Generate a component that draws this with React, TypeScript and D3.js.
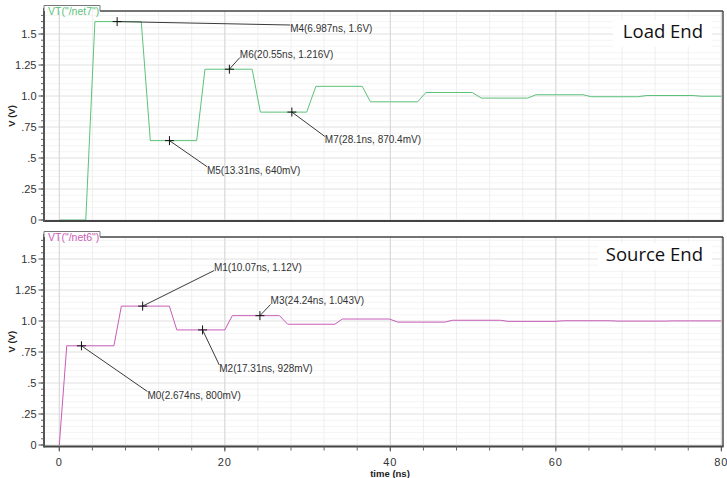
import React from "react";
import * as d3 from "d3";

// ---------- DATA ----------
const loadTime = [0, 3.2, 4.3, 9.9, 11.0, 16.6, 17.6, 23.3, 24.3, 29.9, 31.0, 36.6, 37.6, 43.3, 44.3, 49.9, 51.0, 56.6, 57.6, 63.3, 64.3, 69.9, 71.0, 76.6, 77.6, 80];
const loadVolt = [0, 0, 1.6, 1.6, 0.64, 0.64, 1.216, 1.216, 0.870, 0.870, 1.078, 1.078, 0.953, 0.953, 1.028, 1.028, 0.983, 0.983, 1.010, 1.010, 0.994, 0.994, 1.004, 1.004, 0.998, 0.998];

const sourceTime = [0, 0.9, 6.6, 7.5, 13.3, 14.2, 20.0, 20.9, 26.6, 27.6, 33.3, 34.2, 39.9, 40.9, 46.6, 47.5, 53.3, 54.2, 59.9, 60.9, 66.6, 67.5, 73.3, 74.2, 79.9, 80];
const sourceVolt = [0, 0.8, 0.8, 1.12, 1.12, 0.928, 0.928, 1.043, 1.043, 0.974, 0.974, 1.016, 1.016, 0.991, 0.991, 1.006, 1.006, 0.997, 0.997, 1.002, 1.002, 0.999, 0.999, 1.001, 1.001, 1.0];

const loadMarkerNames = ["M4", "M6", "M5", "M7"];
const loadMarkerTime = [6.987, 20.55, 13.31, 28.1];
const loadMarkerVolt = [1.6, 1.216, 0.64, 0.8704];
const loadMarkerText = ["M4(6.987ns, 1.6V)", "M6(20.55ns, 1.216V)", "M5(13.31ns, 640mV)", "M7(28.1ns, 870.4mV)"];

const sourceMarkerNames = ["M0", "M1", "M2", "M3"];
const sourceMarkerTime = [2.674, 10.07, 17.31, 24.24];
const sourceMarkerVolt = [0.8, 1.12, 0.928, 1.043];
const sourceMarkerText = ["M0(2.674ns, 800mV)", "M1(10.07ns, 1.12V)", "M2(17.31ns, 928mV)", "M3(24.24ns, 1.043V)"];

const xTickValues = [0, 20, 40, 60, 80];
const yTickValues = [0, 0.25, 0.5, 0.75, 1.0, 1.25, 1.5];
const yTickLabels = ["0", ".25", ".5", ".75", "1.0", "1.25", "1.5"];

// ---------- LAYOUT (styles / positions) ----------
const W = 727, H = 478;
const LEFT = 44, RIGHT = 723;
const loadLabelOffsets = [
  { dx: 173, dy: 10.4, top: true },
  { dx: 10.5, dy: -11.7, top: false },
  { dx: 37.5, dy: 33, top: true },
  { dx: 33, dy: 31.4, top: true },
];
const sourceLabelOffsets = [
  { dx: 66, dy: 52.7, top: true },
  { dx: 71.3, dy: -35.5, top: false },
  { dx: 16.7, dy: 42, top: true },
  { dx: 10.7, dy: -11.2, top: false },
];

const x = d3.scaleLinear().domain([-1.85, 80.2]).range([LEFT, RIGHT]);

function Panel(props: any) {
  const { top, zeroY, axisY, color, tabText, title, titleBox, times, volts, mTimes, mVolts, mTexts, offsets } = props;
  const y = d3.scaleLinear().domain([0, 1]).range([zeroY, zeroY - 124]);
  const line = d3.line<number>().x((_, i) => x(times[i])).y((v) => y(v));
  const minorX = d3.range(-0, 81, 4);
  const yMax = y.invert(top);
  const minorY = d3.range(0, yMax, 0.05);
  const font = "Liberation Sans, Arial, sans-serif";
  return (
    <g>
      {/* grid */}
      {minorY.map((v, i) => (
        <line key={"my" + i} x1={LEFT} x2={RIGHT} y1={y(v)} y2={y(v)} stroke="#f4f4f4" strokeWidth={1} />
      ))}
      {minorX.map((t, i) => (
        <line key={"mx" + i} x1={x(t)} x2={x(t)} y1={top} y2={axisY} stroke="#efefef" strokeWidth={1} />
      ))}
      {yTickValues.map((v, i) => (
        <line key={"gy" + i} x1={LEFT} x2={RIGHT} y1={y(v)} y2={y(v)} stroke="#e6e6e6" strokeWidth={1} />
      ))}
      {xTickValues.map((t, i) => (
        <line key={"gx" + i} x1={x(t)} x2={x(t)} y1={top} y2={axisY} stroke="#d6d6d6" strokeWidth={1} />
      ))}
      {/* title box */}
      <rect x={titleBox[0]} y={titleBox[1]} width={titleBox[2]} height={titleBox[3]} fill="#fff" />
      <text x={703} y={titleBox[1] + 18} textAnchor="end" fontFamily="Open Sans, sans-serif" fontSize={18.5} fill="#111">{title}</text>
      {/* trace */}
      <path d={line(volts) || ""} fill="none" stroke={color} strokeWidth={1} />
      {/* markers */}
      {mTimes.map((t: number, i: number) => {
        const mx = x(t), my = y(mVolts[i]);
        const o = offsets[i];
        const lx = mx + o.dx, ly = my + o.dy;
        const ey = o.top ? ly - 7 : ly;
        return (
          <g key={"m" + i}>
            <line x1={mx} y1={my} x2={lx} y2={ey} stroke="#3a3a3a" strokeWidth={1} />
            <line x1={mx - 4.5} x2={mx + 4.5} y1={my} y2={my} stroke="#111" strokeWidth={1} />
            <line x1={mx} x2={mx} y1={my - 4.5} y2={my + 4.5} stroke="#111" strokeWidth={1} />
            <text x={lx} y={ly} fontFamily={font} fontSize={10} fill="#333">{mTexts[i]}</text>
          </g>
        );
      })}
      {/* y ticks */}
      {minorY.map((v, i) => (
        <line key={"ty" + i} x1={41} x2={LEFT} y1={y(v)} y2={y(v)} stroke="#666" strokeWidth={1} />
      ))}
      {yTickValues.map((v, i) => (
        <g key={"yl" + i}>
          <line x1={38.5} x2={LEFT} y1={y(v)} y2={y(v)} stroke="#555" strokeWidth={1} />
          <text x={36.5} y={y(v) + 4} textAnchor="end" fontFamily={font} fontSize={11} fill="#333">{yTickLabels[i]}</text>
        </g>
      ))}
      {/* frame */}
      <line x1={100} x2={RIGHT} y1={top} y2={top} stroke="#444" strokeWidth={1.6} />
      <line x1={RIGHT} x2={RIGHT} y1={top} y2={axisY} stroke="#333" strokeWidth={1.3} />
      <line x1={LEFT} x2={RIGHT + 0.6} y1={axisY} y2={axisY} stroke="#444" strokeWidth={2} />
      <line x1={LEFT} x2={LEFT} y1={top - 3} y2={axisY + 1} stroke="#555" strokeWidth={2} />
      {/* tab */}
      <path d={`M${LEFT},${top} L${LEFT},${top - 5.5} L100,${top - 5.5} L100,${top}`} fill="#fff" stroke="#777" strokeWidth={1} />
      <text x={48} y={top + 4} fontFamily={font} fontSize={10.5} fill={color}>{tabText}</text>
      {/* y label */}
      <text transform={`translate(15,${(top + axisY) / 2}) rotate(-90)`} textAnchor="middle" fontFamily={font} fontSize={9.5} fontWeight="bold" fill="#222">V (V)</text>
    </g>
  );
}

export default function App() {
  const font = "Liberation Sans, Arial, sans-serif";
  const axisY = 446.5;
  const minorX = d3.range(0, 81, 4);
  return (
    <svg width={W} height={H} style={{ position: "absolute", left: 0, top: 0, background: "#fff" }}>
      <rect x={0} y={0} width={W} height={H} fill="#fff" />
      <Panel top={11} zeroY={220} axisY={221} color="#5cc27a" tabText={'VT("/net7")'} title="Load End" titleBox={[613, 20, 99, 27]}
        times={loadTime} volts={loadVolt} mTimes={loadMarkerTime} mVolts={loadMarkerVolt} mTexts={loadMarkerText} offsets={loadLabelOffsets} />
      <Panel top={237} zeroY={445} axisY={axisY} color="#c95cb8" tabText={'VT("/net6")'} title="Source End" titleBox={[598, 243, 114, 27]}
        times={sourceTime} volts={sourceVolt} mTimes={sourceMarkerTime} mVolts={sourceMarkerVolt} mTexts={sourceMarkerText} offsets={sourceLabelOffsets} />
      {/* x axis ticks */}
      {minorX.map((t, i) => (
        <line key={"xt" + i} x1={x(t)} x2={x(t)} y1={axisY} y2={axisY + 4} stroke="#666" strokeWidth={1} />
      ))}
      {xTickValues.map((t, i) => (
        <g key={"xl" + i}>
          <line x1={x(t)} x2={x(t)} y1={axisY} y2={axisY + 5} stroke="#555" strokeWidth={1} />
          <text x={x(t)} y={465.5} textAnchor="middle" fontFamily={font} fontSize={11} fill="#333" letterSpacing={1}>{String(t)}</text>
        </g>
      ))}
      <text x={390} y={477} textAnchor="middle" fontFamily={font} fontSize={9.5} fontWeight="bold" fill="#222">time (ns)</text>
    </svg>
  );
}
